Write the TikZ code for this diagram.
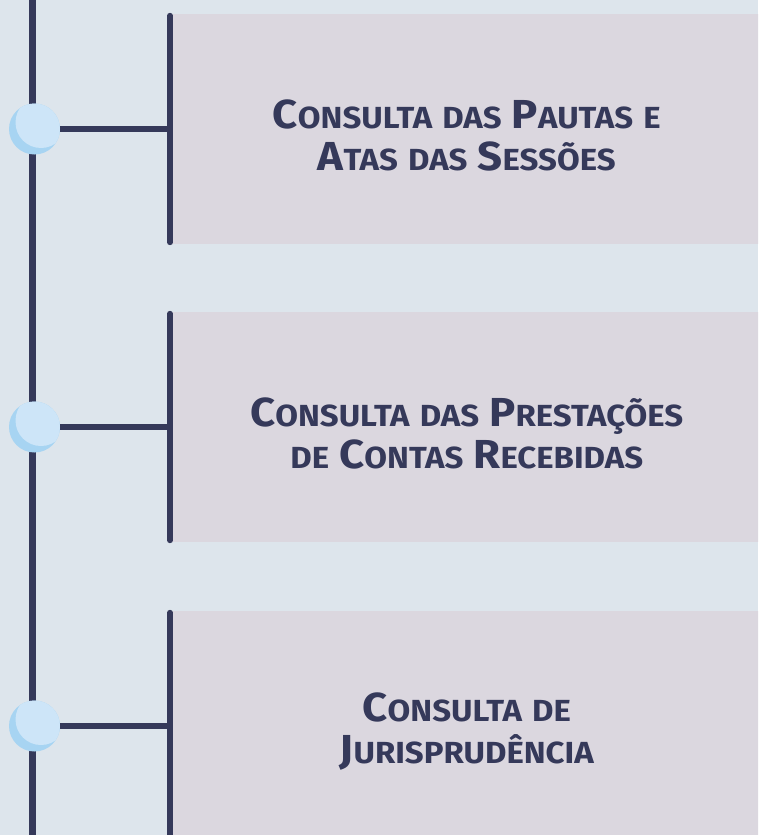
\documentclass[tikz,border=0pt]{standalone}
\usepackage{fontspec}
\setmainfont{Fira Sans}[FakeStretch=1.08]
\definecolor{navy}{HTML}{35395A}
\definecolor{bgblue}{HTML}{DDE5EC}
\definecolor{cardgrey}{HTML}{DBD7DF}
\definecolor{dotlight}{HTML}{CDE5F8}
\definecolor{dotdark}{HTML}{A7D4F2}

% bigger first letters, smaller capitals for the rest
\newcommand\initial[1]{{\fontsize{40.5}{42}\selectfont #1}}

\tikzset{
  card/.style={fill=cardgrey, anchor=west, minimum width=593pt, minimum height=230pt, inner sep=0pt},
  title/.style={text width=560pt, align=center, text=navy, inner sep=0pt,
    font=\bfseries\fontsize{30.5}{42}\selectfont},
  dot/.style={circle, fill=dotdark, minimum size=51pt, inner sep=0pt,
    path picture={\fill[dotlight] ([shift={(6.5pt,6.5pt)}]path picture bounding box.center) circle (25.5pt);}},
  spine/.style={draw=navy, line width=7pt},
  link/.style={draw=navy, line width=5.5pt},
  bar/.style={draw=navy, line width=6pt, line cap=round, shorten <=2pt, shorten >=2pt},
}

\begin{document}
\begin{tikzpicture}[x=1pt, y=-1pt]

  \def\W{758};
  \def\H{835};
  \def\Xs{32.5};
  \def\Xd{34.5};
  \def\Xc{170};

  \def\Ya{129};
  \def\Yb{427};
  \def\Yc{726};

  \useasboundingbox (0,0) rectangle (\W,\H);
  \clip (0,0) rectangle (\W,\H);
  \fill[bgblue] (0,0) rectangle (\W,\H);

  % spine
  \coordinate (top) at (\Xs,-5);
  \coordinate (bottom) at (\Xs,\H+5);
  \draw[spine] (top) -- (bottom);

  % cards
  \node[card] (card1) at (\Xc,\Ya) {};
  \node[card] (card2) at (\Xc,\Yb) {};
  \node[card] (card3) at (\Xc,\Yc) {};

  \draw[bar] (card1.north west) -- (card1.south west);
  \draw[bar] (card2.north west) -- (card2.south west);
  \draw[bar] (card3.north west) -- (card3.south west);

  % titles
  \node[title] (title1) at ([yshift=-6pt]card1.center) {\initial{C}ONSULTA DAS \initial{P}AUTAS E\\\initial{A}TAS DAS \initial{S}ESSÕES};
  \node[title] (title2) at ([yshift=-6pt]card2.center) {\initial{C}ONSULTA DAS \initial{P}RESTAÇÕES\\DE \initial{C}ONTAS \initial{R}ECEBIDAS};
  \node[title] (title3) at ([yshift=-6pt]card3.center) {\initial{C}ONSULTA DE\\\initial{J}URISPRUDÊNCIA};

  % dots
  \node[dot] (dot1) at (\Xd,\Ya) {};
  \node[dot] (dot2) at (\Xd,\Yb) {};
  \node[dot] (dot3) at (\Xd,\Yc) {};

  % links
  \draw[link] (dot1.east) -- (card1.west);
  \draw[link] (dot2.east) -- (card2.west);
  \draw[link] (dot3.east) -- (card3.west);
\end{tikzpicture}
\end{document}
